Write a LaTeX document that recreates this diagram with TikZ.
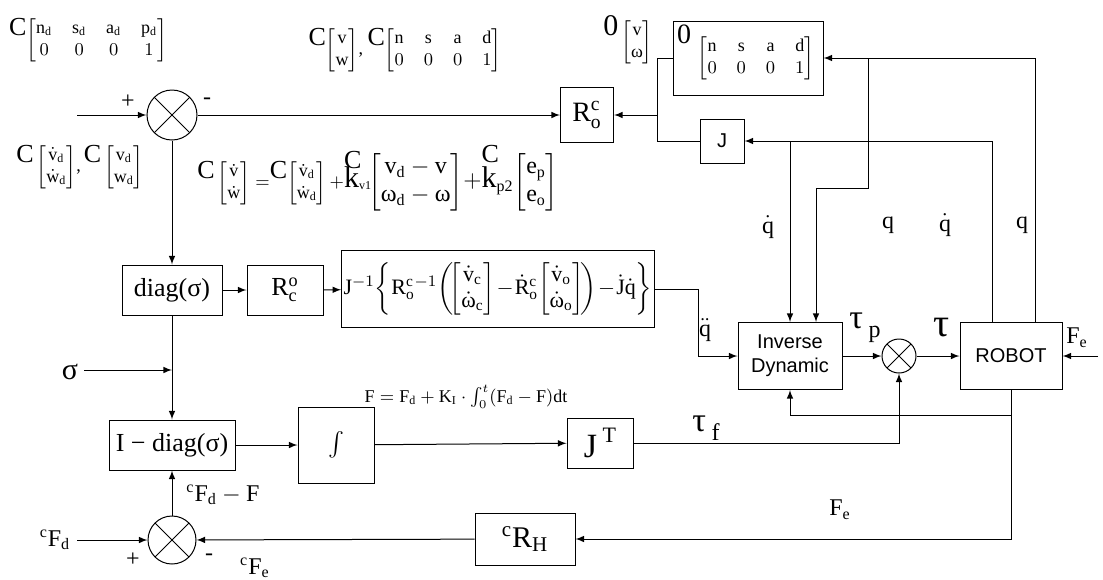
\documentclass[tikz,border=0pt]{standalone}
\usepackage{amsmath}
\usepackage{fontspec}
\setmainfont{Liberation Serif}
\newfontfamily\arialfont{Liberation Sans}
\usetikzlibrary{calc}
\newcommand{\preC}{\raisebox{1.1ex}{\fontsize{13}{13}\selectfont C}}
\newcommand{\overC}{\makebox[0pt][l]{\raisebox{2.3ex}{\fontsize{13}{13}\selectfont C}}}

\begin{document}
\begin{tikzpicture}[x=0.5pt, y=-0.5pt, >=latex, line width=0.5pt,
    blk/.style={draw, inner sep=1pt, font=\fontsize{13}{15}\selectfont},
    sblk/.style={draw, inner sep=1pt, align=center, font=\arialfont\fontsize{10}{12}\selectfont},
    sumj/.style={draw, circle, inner sep=0pt,
      path picture={\draw (path picture bounding box.north west) -- (path picture bounding box.south east)
        (path picture bounding box.north east) -- (path picture bounding box.south west);}},
    lbl/.style={inner sep=1pt, font=\fontsize{12}{14}\selectfont},
    mlbl/.style={inner sep=1pt, font=\fontsize{9}{11}\selectfont}]
    \useasboundingbox (0,0) rectangle (1103,579);

    % Top row
    \node[mlbl] (tdes) at (88,40) {\preC$\begin{bmatrix}\mathrm{n}_{\mathrm d}&\mathrm{s}_{\mathrm d}&\mathrm{a}_{\mathrm d}&\mathrm{p}_{\mathrm d}\\0&0&0&1\end{bmatrix}$};
    \node[mlbl] (tcur) at (405,50) {\preC$\begin{bmatrix}\mathrm v\\\mathrm w\end{bmatrix}$,\ \preC$\begin{bmatrix}\mathrm n&\mathrm s&\mathrm a&\mathrm d\\0&0&0&1\end{bmatrix}$};
    \node[mlbl] (ovel) at (628,40) {\raisebox{1.3ex}{\fontsize{15}{15}\selectfont 0}\,$\begin{bmatrix}\mathrm v\\\text{ω}\end{bmatrix}$};
    \node[sumj, minimum size=25pt] (sum1) at (172,115) {};
    \node[lbl] (p1) at (128,102) {+};
    \node[lbl] (m1) at (207,101) {-};
    \node[draw, minimum width=26.5pt, minimum height=27.5pt, font=\fontsize{14}{16}\selectfont] (rco) at (587,115) {$\mathrm{R}^{\mathrm c}_{\mathrm o}$};
    \node[draw, mlbl, minimum width=75pt, minimum height=37pt,
      label={[anchor=north west, inner sep=2pt, font=\fontsize{14}{14}\selectfont]north west:0}] (pose) at (748,58)
      {\hspace{8pt}$\begin{bmatrix}\mathrm n&\mathrm s&\mathrm a&\mathrm d\\0&0&0&1\end{bmatrix}$};
    \node[sblk, minimum width=22pt, minimum height=22pt] (jac) at (722,141) {J};

    % Control law
    \node[mlbl] (vdes) at (80,167) {\preC\,$\begin{bmatrix}\dot{\mathrm v}_{\mathrm d}\\\dot{\mathrm w}_{\mathrm d}\end{bmatrix}$,\,\preC\,$\begin{bmatrix}\mathrm v_{\mathrm d}\\\mathrm w_{\mathrm d}\end{bmatrix}$};
    \node[mlbl] (ctrl) at (378,178) {\preC\,$\begin{bmatrix}\dot{\mathrm v}\\\dot{\mathrm w}\end{bmatrix}=$\preC$\begin{bmatrix}\dot{\mathrm v}_{\mathrm d}\\\dot{\mathrm w}_{\mathrm d}\end{bmatrix}+$\overC{\fontsize{15}{15}\selectfont k}$_{\mathrm{v1}}$\fontsize{12}{14}\selectfont$\!\begin{bmatrix}\mathrm v_{\mathrm d}-\mathrm v\\\text{ω}_{\mathrm d}-\text{ω}\end{bmatrix}\!+$\overC{\fontsize{15}{15}\selectfont k}$_{\mathrm{p2}}\!\begin{bmatrix}\mathrm e_{\mathrm p}\\\mathrm e_{\mathrm o}\end{bmatrix}$};

    % Middle row
    \node[blk, minimum width=50pt, minimum height=25pt] (dsig) at (172,290) {diag(σ)};
    \node[blk, minimum width=38pt, minimum height=25pt] (roc) at (285,290) {$\mathrm{R}^{\mathrm o}_{\mathrm c}$};
    \node[draw, inner sep=1pt, minimum width=150pt, minimum height=38.5pt, font=\fontsize{11}{13}\selectfont] (qdd) at (498,289)
      {\setlength{\arraycolsep}{1pt}$\mathrm{J}^{-1}\!\left\{\mathrm{R}^{\mathrm c}_{\mathrm o}{}^{-1}\!\left(\!\begin{bmatrix}\dot{\mathrm v}_{\mathrm c}\\\dot{\text{ω}}_{\mathrm c}\end{bmatrix}\!-\!\dot{\mathrm R}^{\mathrm c}_{\mathrm o}\!\begin{bmatrix}\dot{\mathrm v}_{\mathrm o}\\\dot{\text{ω}}_{\mathrm o}\end{bmatrix}\!\right)\!-\!\dot{\mathrm J}\dot{\mathrm q}\right\}$};
    \node[sblk, minimum width=52pt, minimum height=33.5pt] (invd) at (790,356) {Inverse\\Dynamic};
    \node[sumj, minimum size=17pt] (sum2) at (899,356) {};
    \node[sblk, minimum width=51pt, minimum height=33.5pt] (robot) at (1011,356) {ROBOT};

    % Force loop
    \node[blk, minimum width=63pt, minimum height=25pt] (idsig) at (172,445) {I − diag(σ)};
    \node[blk, minimum width=38pt, minimum height=38pt] (integ) at (336,445) {$\int$};
    \node[draw, inner sep=1pt, minimum width=33pt, minimum height=25pt, font=\fontsize{17}{17}\selectfont] (jt) at (600,443)
      {J\,\raisebox{1ex}{\fontsize{11}{11}\selectfont T}};
    \node[sumj, minimum size=24pt] (sum3) at (172,540) {};
    \node[lbl] (p3) at (133,560) {+};
    \node[lbl] (m3) at (209,557) {-};
    \node[draw, minimum width=50pt, minimum height=26pt, font=\fontsize{15}{15}\selectfont] (rh) at (525,539) {${}^{\mathrm c}\mathrm{R}_{\mathrm H}$};

    % Signal labels
    \node[lbl] (lqd1) at (768,227) {$\dot{\mathrm q}$};
    \node[lbl] (lq1) at (888,225) {q};
    \node[lbl] (lqd2) at (945,225) {$\dot{\mathrm q}$};
    \node[lbl] (lq2) at (1022,225) {q};
    \node[lbl] (lqdd) at (705,330) {$\ddot{\mathrm q}$};
    \node[lbl, font=\fontsize{17}{17}\selectfont] (ltp) at (865,328) {τ\,\raisebox{-0.6ex}{\fontsize{12}{12}\selectfont p}};
    \node[lbl, font=\fontsize{20}{20}\selectfont] (ltau) at (942,328) {τ};
    \node[lbl] (lfe1) at (1077,338) {F$_{\mathrm e}$};
    \node[lbl, font=\fontsize{17}{17}\selectfont] (ltf) at (706,428) {τ\,\raisebox{-0.6ex}{\fontsize{12}{12}\selectfont f}};
    \node[mlbl] (lfl) at (466,397) {$\mathrm F=\mathrm F_{\mathrm d}+\mathrm K_{\mathrm I}\cdot\int_0^t(\mathrm F_{\mathrm d}-\mathrm F)\mathrm{dt}$};
    \node[lbl] (lerr) at (223,495) {${}^{\mathrm c}\mathrm F_{\mathrm d}-\mathrm F$};
    \node[lbl, font=\fontsize{15}{15}\selectfont] (lsig) at (70,372) {σ};
    \node[lbl] (lfd) at (55,540) {${}^{\mathrm c}\mathrm F_{\mathrm d}$};
    \node[lbl] (lfc) at (255,568) {${}^{\mathrm c}\mathrm F_{\mathrm e}$};
    \node[lbl] (lfe2) at (840,510) {F$_{\mathrm e}$};

    % Free ends
    \coordinate (in1) at (77,115);
    \coordinate (in3) at (77,540);
    \coordinate (sig) at (84,370);
    \coordinate (fein) at (1098,356);
    \coordinate (mrg) at (657,115);

    % Connections
    \draw[->] (in1) -- (sum1);
    \draw[->] (sum1) -- (rco);
    \draw[->] (sum1) -- (dsig);
    \draw (pose.west) -| (mrg);
    \draw (jac.west) -| (mrg);
    \draw[->] (mrg) -- (rco.east);
    \draw[->] ($(robot.north)+(-19,0)$) |- (jac.east);
    \draw[->] (invd.north |- jac.east) -- (invd.north);
    \draw[->] ($(robot.north)+(24,0)$) |- (pose.east);
    \draw[->] ($(pose.east)+(45,0)$) -- ++(0,130) -| ($(invd.north)+(26,0)$);
    \draw[->] (dsig) -- (roc);
    \draw[->] (roc) -- (qdd);
    \draw[->] (qdd.east) -- ++(44,0) |- (invd.west);
    \draw[->] (invd) -- (sum2);
    \draw[->] (sum2) -- (robot);
    \draw[->] (fein) -- (robot.east);
    \draw[->] (robot.south) -- ++(0,25) -| (invd.south);
    \draw[->] (robot.south) |- (rh.east);
    \draw[->] (dsig) -- (idsig);
    \draw[->] (sig) -- (sig -| dsig.south);
    \draw[->] (idsig) -- (integ);
    \draw[->] (integ) -- (jt);
    \draw[->] (jt.east) -| (sum2.south);
    \draw[->] (in3) -- (sum3);
    \draw[->] (rh) -- (sum3);
    \draw[->] (sum3) -- (idsig);
\end{tikzpicture}
\end{document}
